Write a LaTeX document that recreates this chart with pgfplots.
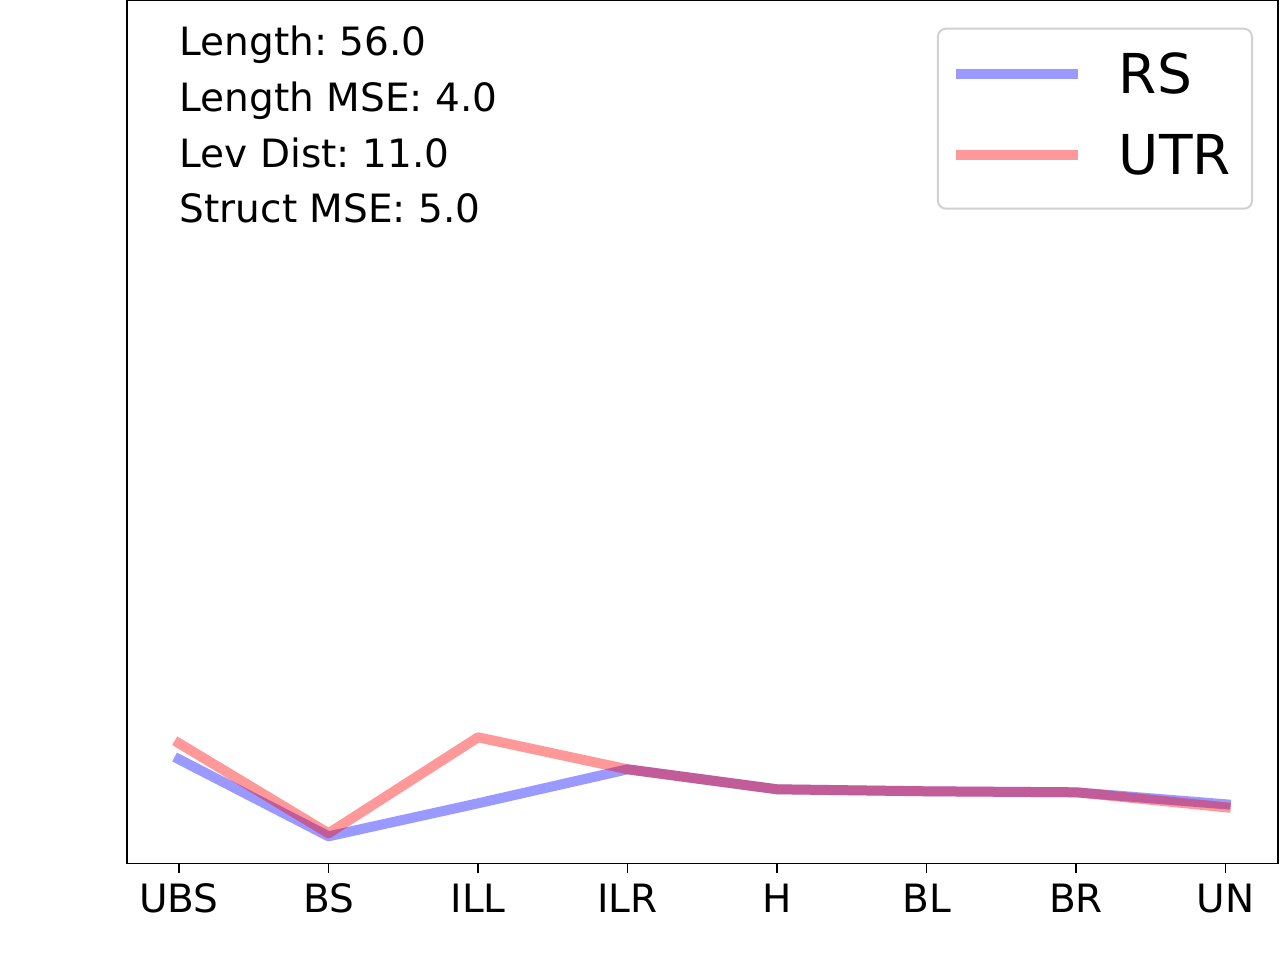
\documentclass[border=0pt]{standalone}
\usepackage{fontspec}
\setmainfont{DejaVu Sans}
\usepackage{pgfplots}
\pgfplotsset{compat=1.18}
\frenchspacing
\begin{document}
\begin{tikzpicture}
\useasboundingbox (0,0) rectangle (640pt,480pt);
\begin{axis}[
  at={(63.35pt,48.35pt)}, anchor=south west,
  scale only axis, width=575.65pt, height=431.3pt,
  xmin=-0.35, xmax=7.35, ymin=0, ymax=862.6,
  xtick={0,...,7}, xticklabels={UBS,BS,ILL,ILR,H,BL,BR,UN},
  ytick=\empty,
  xtick pos=lower,
  tick align=outside, major tick length=5pt,
  every tick/.style={line width=0.8pt, black},
  axis line style={line width=0.8pt},
  xticklabel style={font=\fontsize{19.5pt}{23pt}\selectfont, anchor=base, inner sep=0pt, yshift=-19.75pt},
  legend image code/.code={\draw[#1, line cap=butt] (0pt,10pt) -- (61pt,10pt);},
  legend style={at={(rel axis cs:1,1)}, anchor=north east, xshift=-12.5pt, yshift=-13.5pt,
    draw=black!18, rounded corners=4pt, line width=1pt,
    font=\fontsize{27.5pt}{33pt}\selectfont,
    inner xsep=6.5pt, inner ysep=3pt, column sep=18pt, row sep=-3pt,
    cells={anchor=base west},
    nodes={inner sep=0pt, text height=29.5pt, text depth=14pt}},
]
\addplot[blue, opacity=0.4, line width=5pt, line cap=rect, line join=round]
  coordinates {(0,104) (1,27) (2,60) (3,94) (4,74) (5,72) (6,71) (7,59)};
\addlegendentry{RS}
\addplot[red, opacity=0.4, line width=5pt, line cap=rect, line join=round]
  coordinates {(0,120) (1,30) (2,126) (3,94) (4,74) (5,72) (6,71) (7,56)};
\addlegendentry{UTR\rule{4pt}{0pt}}
\node[anchor=base west, inner sep=0pt, font=\fontsize{19.5pt}{23pt}\selectfont, xshift=26.4pt, yshift=-27.65pt] at (rel axis cs:0,1) {Length: 56.0};
\node[anchor=base west, inner sep=0pt, font=\fontsize{19.5pt}{23pt}\selectfont, xshift=26.4pt, yshift=-55.5pt] at (rel axis cs:0,1) {Length MSE: 4.0};
\node[anchor=base west, inner sep=0pt, font=\fontsize{19.5pt}{23pt}\selectfont, xshift=26.4pt, yshift=-83.4pt] at (rel axis cs:0,1) {Lev Dist: 11.0};
\node[anchor=base west, inner sep=0pt, font=\fontsize{19.5pt}{23pt}\selectfont, xshift=26.4pt, yshift=-111.15pt] at (rel axis cs:0,1) {Struct MSE: 5.0};
\end{axis}
\end{tikzpicture}
\end{document}
